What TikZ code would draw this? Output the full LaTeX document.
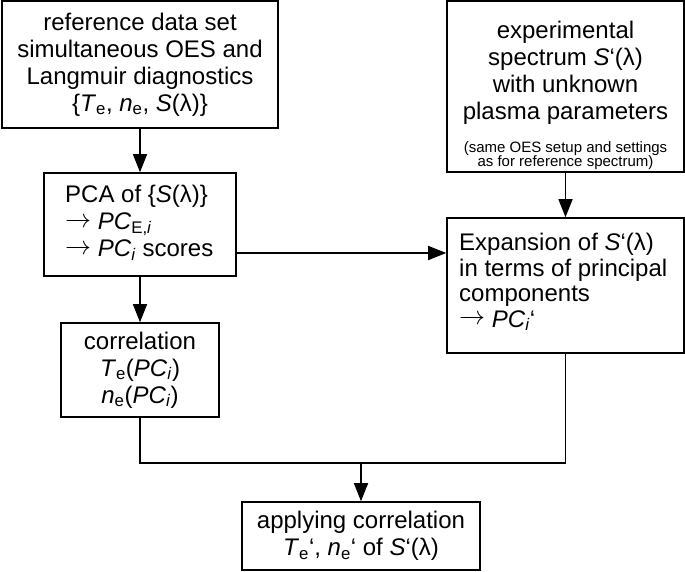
\documentclass[tikz,border=0pt]{standalone}
\usepackage{fontspec}
\setmainfont{Liberation Sans}
\usetikzlibrary{arrows.meta}
\newcommand{\lo}[1]{\textsubscript{#1}}
\newcommand{\bigf}{\fontsize{24}{27}\selectfont}
\newcommand{\smallf}{\fontsize{15}{14.5}\selectfont}
\newcommand{\rarr}{\smash{\raisebox{0.18ex}{\resizebox{26pt}{!}{$\rightarrow$}}}}
\begin{document}
\begin{tikzpicture}[x=1pt,y=-1pt,
  box/.style={draw, line width=1.6pt, inner sep=0pt, font=\bigf},
  txt/.style={inner sep=0pt, align=center},
  ltxt/.style={inner sep=0pt, align=left, anchor=west},
  arr/.style={line width=1.6pt, -{Triangle[length=18pt,width=14pt]}},
  ln/.style={line width=1.6pt}]
\useasboundingbox (0,0) rectangle (685,571);
\node[box, align=center, minimum width=276pt, minimum height=127pt] (ref) at (140,64.5)
  {reference data set\\simultaneous OES and\\Langmuir diagnostics\\\{\textit{T}\lo{e}, \textit{n}\lo{e}, \textit{S}(λ)\}};
\node[box, minimum width=237pt, minimum height=171pt] (expt) at (565.5,86.5) {};
\node[txt, font=\bigf] (expttext) at (565.5,72.5)
  {experimental\\spectrum \textit{S}‘(λ)\\with unknown\\plasma parameters};
\node[txt, font=\smallf] (exptnote) at (565.5,155.5)
  {(same OES setup and settings\\as for reference spectrum)};
\node[box, minimum width=192pt, minimum height=103pt] (pca) at (140,224.5) {};
\node[ltxt, font=\bigf] (pcatext) at (65,223)
  {PCA of \{\textit{S}(λ)\}\\\rarr\ \textit{PC}\lo{E,\textit{i}}\\\rarr\ \textit{PC}\lo{\textit{i}} scores};
\node[box, minimum width=237pt, minimum height=135pt] (expn) at (565.5,285.5) {};
\node[ltxt, font=\fontsize{24}{25.5}\selectfont] (expntext) at (459,282)
  {Expansion of \textit{S}‘(λ)\\in terms of principal\\components\\\rarr\ \textit{PC}\lo{\textit{i}}‘};
\node[box, align=center, minimum width=158pt, minimum height=94pt] (corr) at (140,370)
  {correlation\\\textit{T}\lo{e}(\textit{PC}\lo{\textit{i}})\\\textit{n}\lo{e}(\textit{PC}\lo{\textit{i}})};
\node[box, align=center, minimum width=238pt, minimum height=68pt] (app) at (361,536)
  {applying correlation\\\textit{T}\lo{e}‘, \textit{n}\lo{e}‘ of \textit{S}‘(λ)};
\coordinate (pcaout) at (236,253);
\coordinate (join) at (361,463);
\draw[arr] (ref.south) -- (pca.north);
\draw[arr] (expt.south) -- (expn.north);
\draw[arr] (pcaout) -- (pcaout -| expn.west);
\draw[arr] (pca.south) -- (corr.north);
\draw[ln] (corr.south) |- (join) -| (expn.south);
\draw[arr] (join) -- (app.north);
\end{tikzpicture}
\end{document}
